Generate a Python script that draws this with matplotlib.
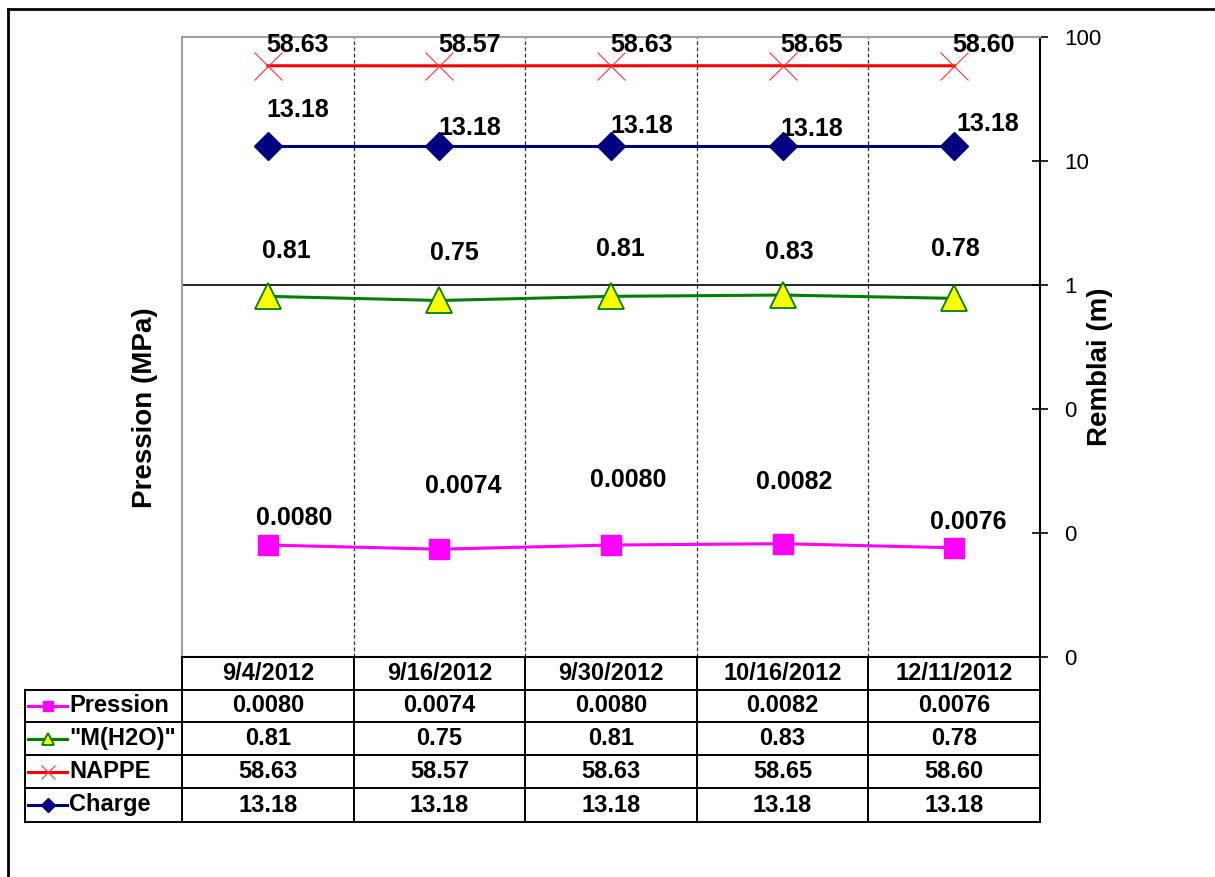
import matplotlib
matplotlib.use("Agg")
import matplotlib.pyplot as plt
from matplotlib.lines import Line2D
from matplotlib.transforms import blended_transform_factory

plt.rcParams['font.family'] = ['Liberation Sans', 'DejaVu Sans']

# ---------------- data ----------------
dates = ["9/4/2012", "9/16/2012", "9/30/2012", "10/16/2012", "12/11/2012"]
pression = [0.0080, 0.0074, 0.0080, 0.0082, 0.0076]
m_h2o = [0.81, 0.75, 0.81, 0.83, 0.78]
nappe = [58.63, 58.57, 58.63, 58.65, 58.60]
charge = [13.18, 13.18, 13.18, 13.18, 13.18]
pression_txt = ["0.0080", "0.0074", "0.0080", "0.0082", "0.0076"]
m_h2o_txt = ["0.81", "0.75", "0.81", "0.83", "0.78"]
nappe_txt = ["58.63", "58.57", "58.63", "58.65", "58.60"]
charge_txt = ["13.18", "13.18", "13.18", "13.18", "13.18"]
series_names = ["Pression", '"M(H2O)"', "NAPPE", "Charge"]
ytick_vals = [0.001, 0.01, 0.1, 1, 10, 100]
ytick_labels = ["0", "0", "0", "1", "10", "100"]

# ---------------- style ----------------
W, H = 1215, 877
fig = plt.figure(figsize=(W / 100, H / 100), dpi=100)
L, R, T, B = 182, 1040, 37, 657
ax = fig.add_axes([L / W, 1 - B / H, (R - L) / W, (B - T) / H])
x = list(range(len(dates)))

styles = [
    dict(color="#FF00FF", marker="s", ms=15, mfc="#FF00FF", mec="#FF00FF", mew=1, lw=2.2),
    dict(color="#008000", marker="^", ms=19, mfc="#FFFF00", mec="#008000", mew=1.3, lw=2.2),
    dict(color="#FF0000", marker="x", ms=20, mfc="none", mec="#FF3030", mew=0.8, lw=2.2),
    dict(color="#000080", marker="D", ms=14, mfc="#000080", mec="#000080", mew=1, lw=2.2),
]
legend_ms = [7, 9, 10, 7]
values = [pression, m_h2o, nappe, charge]
texts = [pression_txt, m_h2o_txt, nappe_txt, charge_txt]
# label offsets in pixels (dx, dy upward)
offsets = [
    [(26, 27), (24, 63), (17, 65), (12, 62), (14, 26)],
    [(19, 45), (15, 47), (9, 47), (7, 43), (1, 49)],
    [(30, 21), (30, 21), (31, 21), (29, 21), (29, 21)],
    [(30, 36), (30, 18), (31, 20), (29, 17), (34, 22)],
]

for v, st in zip(values, styles):
    ax.plot(x, v, **st, zorder=3)

for v, t, offs in zip(values, texts, offsets):
    for xi, yi, s, (dx, dy) in zip(x, v, t, offs):
        ax.annotate(s, (xi, yi), xytext=(dx * 0.72, dy * 0.72), textcoords="offset points",
                    ha="center", va="center", fontsize=18, fontweight="bold", zorder=4)

ax.set_yscale("log")
ax.set_ylim(0.001, 100)
ax.set_xlim(-0.5, len(dates) - 0.5)
ax.set_xticks([])
ax.minorticks_off()
ax.yaxis.tick_right()
ax.set_yticks(ytick_vals)
ax.set_yticklabels(ytick_labels, fontsize=16)
ax.tick_params(axis="y", direction="inout", length=11, width=1.2, pad=12, right=True, left=False)
ax.yaxis.set_minor_locator(matplotlib.ticker.NullLocator())

for k in range(1, len(dates)):
    ax.axvline(k - 0.5, color="#303030", lw=0.9, ls=(0, (3, 2)), zorder=1)
ax.axhline(1, color="black", lw=1.2, zorder=2)

for side in ["left", "top"]:
    ax.spines[side].set_color("#A0A0A0")
    ax.spines[side].set_linewidth(1.5)
ax.spines["right"].set_color("black")
ax.spines["right"].set_linewidth(1.5)
ax.spines["bottom"].set_color("black")
ax.spines["bottom"].set_linewidth(1.5)

fig.text(145 / W, 1 - 408 / H, "Pression (MPa)", rotation=90, ha="center", va="center",
         fontsize=20, fontweight="bold")
fig.text(1100 / W, 1 - 367 / H, "Remblai (m)", rotation=90, ha="center", va="center",
         fontsize=20, fontweight="bold")

# ---------------- data table ----------------
tr = blended_transform_factory(ax.transData, fig.transFigure)
ff = fig.transFigure
def fy(py):
    return 1 - py / H
def fx(px):
    return px / W

row_edges = [657, 690, 722, 755, 788, 822]
lw_t = 1.4
fig.add_artist(Line2D([fx(L), fx(R)], [fy(657), fy(657)], color="black", lw=lw_t, transform=ff))
for py in row_edges[1:]:
    fig.add_artist(Line2D([fx(25), fx(R)], [fy(py), fy(py)], color="black", lw=lw_t, transform=ff))
fig.add_artist(Line2D([fx(25), fx(25)], [fy(690), fy(822)], color="black", lw=lw_t, transform=ff))
for k in range(len(dates) + 1):
    fig.add_artist(Line2D([k - 0.5, k - 0.5], [fy(657), fy(822)], color="black", lw=lw_t, transform=tr))

tfs = 17
for xi, d in zip(x, dates):
    fig.text(xi, fy(674), d, transform=tr, ha="center", va="center", fontsize=tfs, fontweight="bold")
for r, (name, st, t, lms) in enumerate(zip(series_names, styles, texts, legend_ms)):
    yc = fy((row_edges[r + 1] + row_edges[r + 2]) / 2)
    for xi, s in zip(x, t):
        fig.text(xi, yc, s, transform=tr, ha="center", va="center", fontsize=tfs, fontweight="bold")
    fig.add_artist(Line2D([fx(28), fx(67)], [yc, yc], color=st["color"], lw=2.2, transform=ff))
    fig.add_artist(Line2D([fx(48)], [yc], marker=st["marker"], ms=lms,
                          mfc=st["mfc"], mec=st["mec"], mew=st["mew"], lw=0, transform=ff))
    fig.text(fx(69), yc, name, ha="left", va="center", fontsize=tfs, fontweight="bold")

# outer frame (left and top only visible)
fig.add_artist(Line2D([fx(8), fx(8)], [fy(9), 0], color="black", lw=2, transform=ff))
fig.add_artist(Line2D([fx(8), 1], [fy(9), fy(9)], color="black", lw=2, transform=ff))

fig.savefig("out.png", dpi=100, facecolor="white")
